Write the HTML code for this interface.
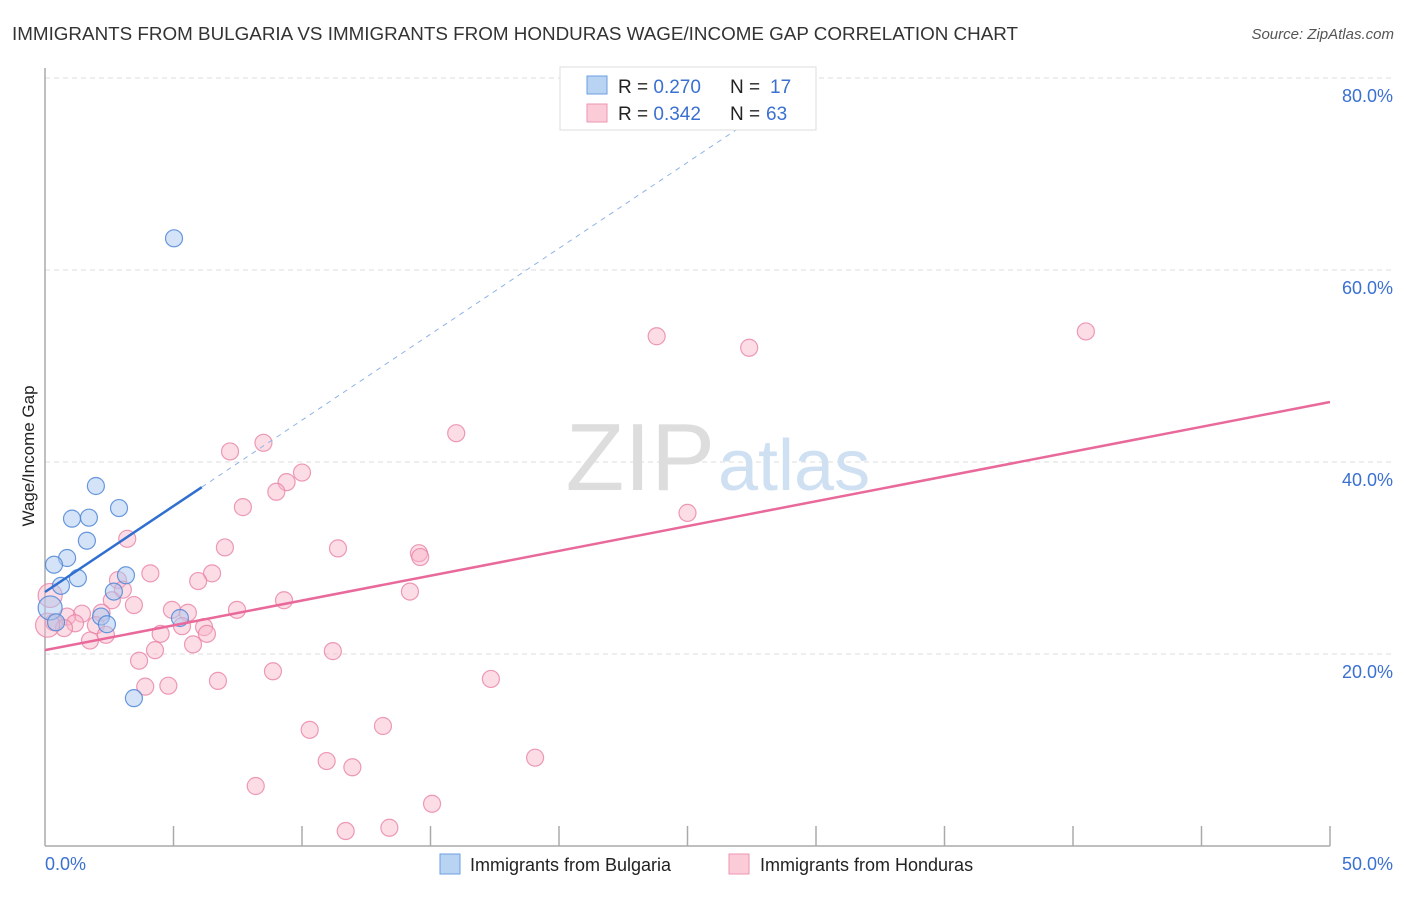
<!DOCTYPE html>
<html><head><meta charset="utf-8"><style>
body{margin:0;background:#fff;font-family:"Liberation Sans",sans-serif;}
svg text{font-family:"Liberation Sans",sans-serif;}
</style></head><body>
<svg width="1406" height="892">
<text x="12" y="40" font-size="18" fill="#333" textLength="1006" lengthAdjust="spacingAndGlyphs">IMMIGRANTS FROM BULGARIA VS IMMIGRANTS FROM HONDURAS WAGE/INCOME GAP CORRELATION CHART</text>
<text x="1394" y="39" font-size="15" fill="#555" text-anchor="end" font-style="italic">Source: ZipAtlas.com</text>
<g id="grid"></g>
<text x="715" y="490" font-size="96" fill="#ddd" text-anchor="end" font-family="Liberation Serif">ZIP</text>
<text x="718" y="490" font-size="72" fill="#cfe0f3">atlas</text>
<line x1="45" y1="68" x2="45" y2="846" stroke="#aaa" stroke-width="1.5"/>
<line x1="45" y1="846" x2="1330" y2="846" stroke="#aaa" stroke-width="1.5"/>
<text transform="translate(34,456) rotate(-90)" font-size="17" fill="#222" text-anchor="middle">Wage/Income Gap</text>
<text x="45" y="870" font-size="18" fill="#3a70d0">0.0%</text>
<text x="1393" y="870" font-size="18" fill="#3a70d0" text-anchor="end">50.0%</text>
<g id="pts"></g>
<g id="lines"></g>
<rect x="560" y="67" width="256" height="63" fill="#fff" stroke="#ddd"/>
<rect x="587" y="76" width="20" height="18" fill="#b9d3f3" stroke="#6d9ee0"/>
<rect x="587" y="104" width="20" height="18" fill="#fbcbd8" stroke="#ec94b0"/>
<text x="618" y="93" font-size="19" fill="#222">R = <tspan fill="#3a70d0">0.270</tspan><tspan x="730">N = </tspan><tspan x="770" fill="#3a70d0">17</tspan></text>
<text x="618" y="120" font-size="19" fill="#222">R = <tspan fill="#3a70d0">0.342</tspan><tspan x="730">N = </tspan><tspan x="766" fill="#3a70d0">63</tspan></text>
<rect x="440" y="854" width="20" height="20" fill="#b9d3f3" stroke="#6d9ee0"/>
<text x="470" y="871" font-size="18" fill="#222">Immigrants from Bulgaria</text>
<rect x="729" y="854" width="20" height="20" fill="#fbcbd8" stroke="#ec94b0"/>
<text x="760" y="871" font-size="18" fill="#222">Immigrants from Honduras</text>
</svg>
<script>
const yTicks=[20,40,60,80];
const xTicks=[5,10,15,20,25,30,35,40,45,50];
const blueX=[5.02,1.98,1.05,1.71,2.88,1.63,0.86,0.35,1.28,3.15,0.62,2.68,2.18,2.41,5.25,3.46,0.2,0.43];
const blueY=[63.3,37.5,34.1,34.2,35.2,31.8,30.0,29.3,27.9,28.2,27.1,26.5,23.9,23.1,23.75,15.4,24.8,23.3];
const pinkX=[40.5,23.8,27.4,16.0,8.5,7.2,10.0,9.4,9.0,7.7,25.0,3.2,7.0,11.4,14.55,14.6,4.1,6.5,5.96,2.84,3.03,14.2,2.6,3.46,9.3,7.47,4.94,5.56,2.2,1.44,0.86,0.35,1.17,0.74,1.98,5.33,6.19,6.3,4.5,2.37,1.75,5.76,4.28,11.2,3.66,8.87,6.73,17.35,3.9,4.8,10.3,13.15,10.96,11.96,19.07,8.2,15.06,11.7,13.4,0.2,0.1];
const pinkY=[53.6,53.1,51.9,43.0,42.0,41.1,38.9,37.9,36.9,35.3,34.7,32.0,31.1,31.0,30.5,30.1,28.4,28.4,27.6,27.7,26.7,26.5,25.6,25.1,25.6,24.6,24.6,24.3,24.3,24.2,23.9,23.3,23.2,22.7,23.0,22.9,22.8,22.1,22.1,22.0,21.4,21.0,20.4,20.3,19.3,18.2,17.2,17.4,16.6,16.7,12.1,12.5,8.85,8.2,9.2,6.25,4.4,1.56,1.9,26.1,23.0];
const pinkLarge=[59,60];const blueLarge=[16];
const blueTrend=[26.46,1.79];const pinkTrend=[20.4,0.517];
const X=v=>45+v*25.7, Y=v=>846-v*9.6;
const NS='http://www.w3.org/2000/svg';
const grid=document.getElementById('grid');
yTicks.forEach(t=>{
 const l=document.createElementNS(NS,'line');
 l.setAttribute('x1',45);l.setAttribute('x2',1393);l.setAttribute('y1',Y(t));l.setAttribute('y2',Y(t));
 l.setAttribute('stroke','#ddd');l.setAttribute('stroke-dasharray','5,4');
 
 
 grid.appendChild(l);
 const tx=document.createElementNS(NS,'text');
 tx.setAttribute('x',1393);tx.setAttribute('y',Y(t)+24);tx.setAttribute('text-anchor','end');
 tx.setAttribute('font-size','18');tx.setAttribute('fill','#3a70d0');tx.textContent=t.toFixed(1)+'%';
 
 
 grid.appendChild(tx);
});
xTicks.forEach(t=>{
 const l=document.createElementNS(NS,'line');
 l.setAttribute('x1',X(t));l.setAttribute('x2',X(t));l.setAttribute('y1',826);l.setAttribute('y2',846);
 l.setAttribute('stroke','#aaa');l.setAttribute('stroke-width','1.5');
 
 
 grid.appendChild(l);
});
const pts=document.getElementById('pts');
function dot(x,y,r,fill,stroke,name){
 const c=document.createElementNS(NS,'circle');
 c.setAttribute('cx',X(x));c.setAttribute('cy',Y(y));c.setAttribute('r',r);
 c.setAttribute('fill',fill);c.setAttribute('stroke',stroke);c.setAttribute('stroke-width','1.2');
 
 
 pts.appendChild(c);
}
pinkX.forEach((x,i)=>dot(x,pinkY[i],pinkLarge.includes(i)?12:8.5,'rgba(248,180,200,0.45)','rgba(232,130,165,0.8)','honduras-point'));
blueX.forEach((x,i)=>dot(x,blueY[i],blueLarge.includes(i)?12:8.5,'rgba(170,200,240,0.5)','rgba(80,135,215,0.85)','bulgaria-point'));
const lines=document.getElementById('lines');
function ln(x1,x2,tr,color,w,dash,name){
 const l=document.createElementNS(NS,'line');
 l.setAttribute('x1',X(x1));l.setAttribute('x2',X(x2));
 l.setAttribute('y1',Y(tr[0]+tr[1]*x1));l.setAttribute('y2',Y(tr[0]+tr[1]*x2));
 l.setAttribute('stroke',color);l.setAttribute('stroke-width',w);
 if(dash)l.setAttribute('stroke-dasharray',dash);
 
 
 lines.appendChild(l);
}
ln(6.1,(78-blueTrend[0])/blueTrend[1],blueTrend,'#8fb3e6',1,'5,5','bulgaria-trend-extension');
ln(0,6.1,blueTrend,'#2f6fd0',2.5,null,'bulgaria-trend-line');
ln(0,50,pinkTrend,'#e8699a',2.5,null,'honduras-trend-line');
</script>
</body></html>
